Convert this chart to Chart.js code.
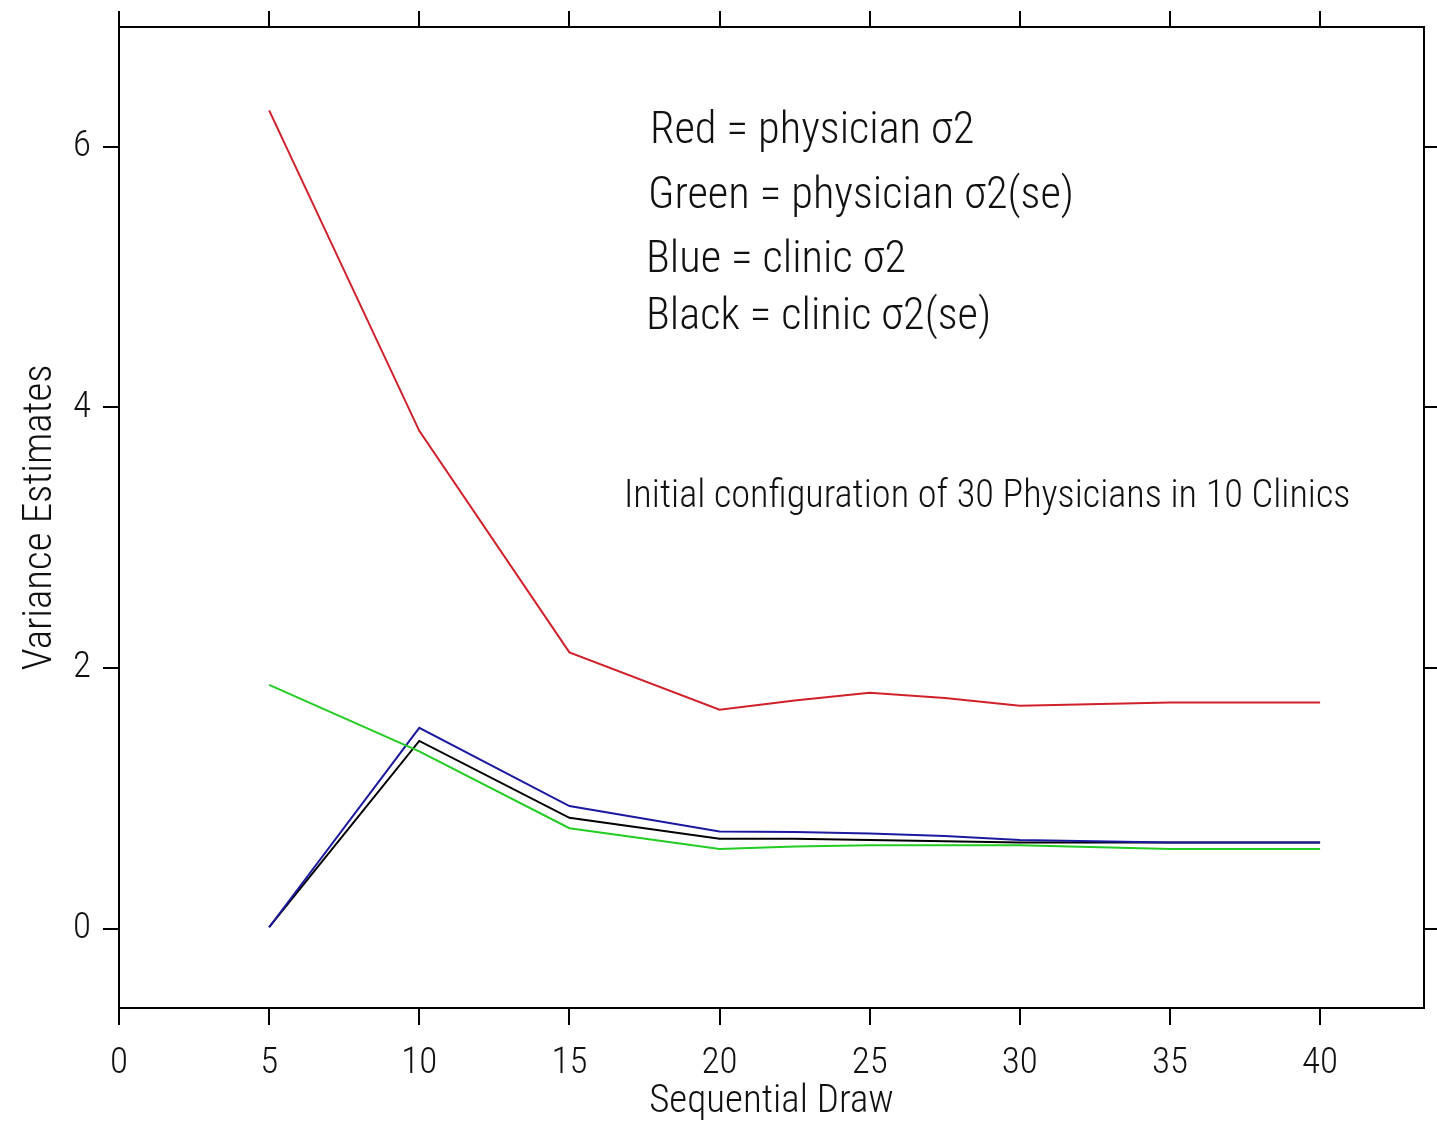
<!DOCTYPE html>
<html>
<head>
<meta charset="utf-8">
<script src="https://cdn.jsdelivr.net/npm/chart.js@4.4.0/dist/chart.umd.min.js"></script>
<style>
  html, body { margin: 0; padding: 0; background: #fff; }
  #wrap { width: 1437px; height: 1128px; }
</style>
</head>
<body>
<div id="wrap"><canvas id="chart" width="1437" height="1128"></canvas></div>
<script>
// Sequential draw numbers and variance estimates
const draws = [5, 10, 15, 20, 22.5, 25, 27.5, 30, 35, 40];
const physicianVar   = [6.28, 3.82, 2.12, 1.68, 1.75, 1.81, 1.77, 1.71, 1.735, 1.735];
const physicianVarSe = [1.87, 1.36, 0.77, 0.61, 0.63, 0.64, 0.64, 0.64, 0.61, 0.61];
const clinicVar      = [0.01, 1.54, 0.94, 0.745, 0.74, 0.73, 0.71, 0.68, 0.66, 0.66];
const clinicVarSe    = [0.01, 1.44, 0.85, 0.69, 0.69, 0.68, 0.67, 0.66, 0.66, 0.66];

const xTicks = [0, 5, 10, 15, 20, 25, 30, 35, 40];
const yTicks = [0, 2, 4, 6];

const legendLines = [
    'Red = physician \u03C32',
    'Green = physician \u03C32(se)',
    'Blue = clinic \u03C32',
    'Black = clinic \u03C32(se)'
];
const configNote = 'Initial configuration of 30 Physicians in 10 Clinics';

const FONT = '"Roboto Condensed", "Liberation Sans", Arial, sans-serif';
const WEIGHT = 300;

function toPoints(values) {
    return values.map((v, i) => ({ x: draws[i], y: v }));
}

function series(label, values, color) {
    return {
        label: label,
        data: toPoints(values),
        borderColor: color,
        backgroundColor: color,
        borderWidth: 2,
        pointRadius: 0,
        tension: 0,
        fill: false
    };
}

// text notes inside the plot area
const notesPlugin = {
    id: 'notes',
    afterDatasetsDraw(chart) {
        const ctx = chart.ctx;
        ctx.save();
        ctx.fillStyle = '#111';
        ctx.textBaseline = 'alphabetic';
        ctx.textAlign = 'left';
        ctx.font = WEIGHT + ' 44.5px ' + FONT;
        const lx = [650, 648, 646, 646];
        const ly = [143, 208, 272, 329];
        legendLines.forEach((t, i) => ctx.fillText(t, lx[i], ly[i]));
        ctx.font = WEIGHT + ' 38.3px ' + FONT;
        ctx.fillText(configNote, 624, 507);
        ctx.restore();
    }
};

function setTicks(values) {
    return function(scale) {
        scale.ticks = values.map(v => ({ value: v }));
    };
}

function fixSize(prop, size) {
    return function(scale) {
        scale[prop] = size;
        scale.paddingTop = 0;
        scale.paddingBottom = 0;
        scale.paddingLeft = 0;
        scale.paddingRight = 0;
    };
}

const ctx = document.getElementById('chart').getContext('2d');
const chart = new Chart(ctx, {
    type: 'line',
    data: {
        datasets: [
            series('physician \u03C32', physicianVar, '#d0202a'),
            series('physician \u03C32(se)', physicianVarSe, '#22cc22'),
            series('clinic \u03C32', clinicVar, '#1a1aa0'),
            series('clinic \u03C32(se)', clinicVarSe, '#000000')
        ]
    },
    options: {
        responsive: false,
        animation: false,
        layout: { padding: 0 },
        plugins: {
            legend: { display: false },
            tooltip: { enabled: false }
        },
        scales: {
            x: {
                type: 'linear',
                position: 'bottom',
                min: 0,
                max: 43.46,
                afterBuildTicks: setTicks(xTicks),
                afterFit: fixSize('height', 120),
                grid: { drawOnChartArea: false, drawTicks: true, tickLength: 17, color: '#000', lineWidth: 2 },
                border: { display: true, color: '#000', width: 2 },
                ticks: { color: '#111', padding: 17, maxRotation: 0, font: { family: FONT, size: 37, weight: WEIGHT } },
                title: { display: true, text: 'Sequential Draw', color: '#111', padding: { top: 0, bottom: 2 }, font: { family: FONT, size: 39, weight: WEIGHT } }
            },
            x2: {
                type: 'linear',
                position: 'top',
                min: 0,
                max: 43.46,
                afterBuildTicks: setTicks(xTicks),
                afterFit: fixSize('height', 27),
                grid: { drawOnChartArea: false, drawTicks: true, tickLength: 16, color: '#000', lineWidth: 2 },
                border: { display: true, color: '#000', width: 2 },
                ticks: { display: false }
            },
            y: {
                type: 'linear',
                position: 'left',
                min: -0.61,
                max: 6.92,
                afterBuildTicks: setTicks(yTicks),
                afterFit: fixSize('width', 119),
                grid: { drawOnChartArea: false, drawTicks: true, tickLength: 16, color: '#000', lineWidth: 2 },
                border: { display: true, color: '#000', width: 2 },
                ticks: { color: '#111', padding: 12, font: { family: FONT, size: 37, weight: WEIGHT } },
                title: { display: true, text: 'Variance Estimates', color: '#111', padding: { top: 16, bottom: 0 }, font: { family: FONT, size: 41, weight: WEIGHT } }
            },
            y2: {
                type: 'linear',
                position: 'right',
                min: -0.61,
                max: 6.92,
                afterBuildTicks: setTicks(yTicks),
                afterFit: fixSize('width', 13),
                grid: { drawOnChartArea: false, drawTicks: true, tickLength: 13, color: '#000', lineWidth: 2 },
                border: { display: true, color: '#000', width: 2 },
                ticks: { display: false }
            }
        }
    },
    plugins: [notesPlugin]
});
</script>
</body>
</html>
